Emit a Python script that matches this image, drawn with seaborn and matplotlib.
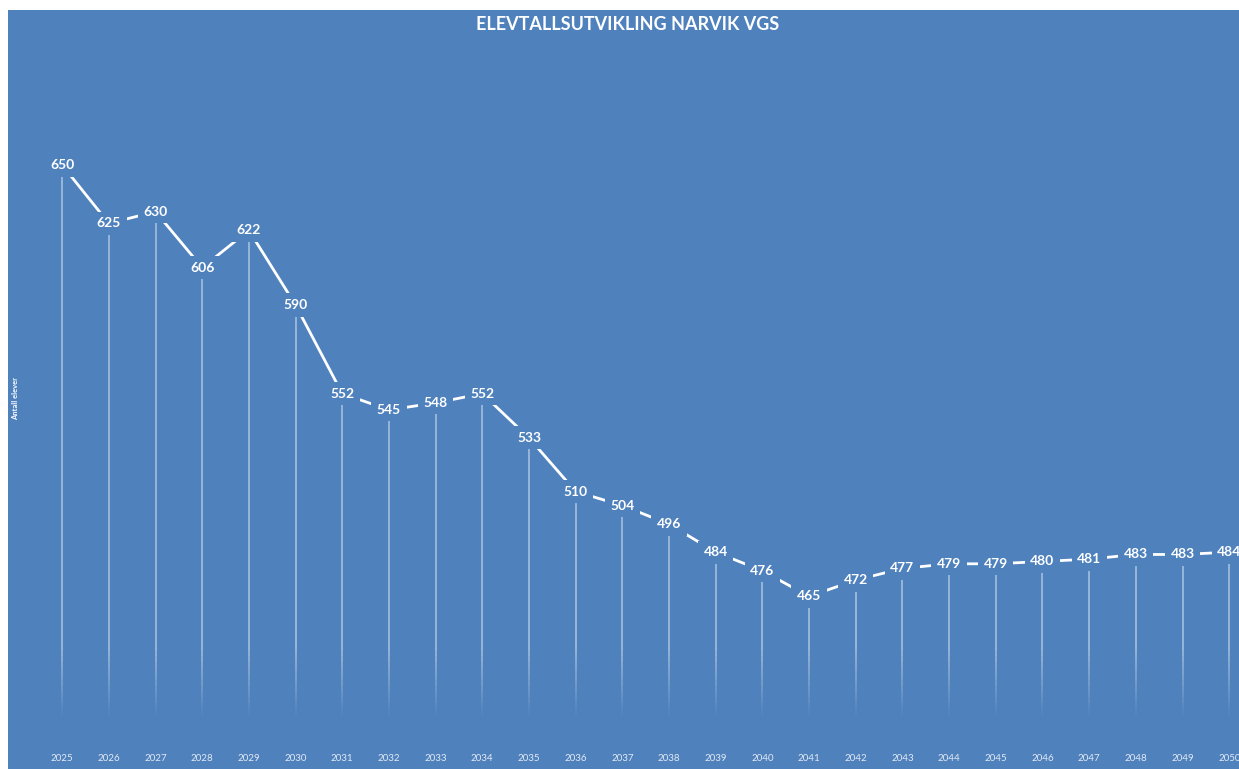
import numpy as np
import pandas as pd
import matplotlib
matplotlib.use("Agg")
import matplotlib.pyplot as plt
import seaborn as sns

# ==========================================
# DATA
# ==========================================

years = list(range(2025, 2051))
students = [650, 625, 630, 606, 622, 590, 552, 545, 548, 552, 533, 510, 504,
            496, 484, 476, 465, 472, 477, 479, 479, 480, 481, 483, 483, 484]

title = "ELEVTALLSUTVIKLING NARVIK VGS"
ylabel = "Antall elever"

df = pd.DataFrame({"year": years, "students": students})

# ==========================================
# STYLE
# ==========================================

bg = "#4F81BD"
sns.set_style("white")
plt.rcParams['font.family'] = ['Lato', 'DejaVu Sans']

W, H = 1239, 769
fig = plt.figure(figsize=(W / 100, H / 100), dpi=100, facecolor="white")
# blue panel starts 8 px in from the left, 10 px down from the top
ax = fig.add_axes([8 / W, 0, 1 - 8 / W, 1 - 10 / H])
ax.set_facecolor(bg)

# drop lines, fading out towards the bottom
fade_start = 442
fade_end = 414
ax.vlines(df["year"], fade_start, df["students"], color="white", alpha=0.45, lw=1.3, zorder=1)
steps = np.linspace(fade_start, fade_end, 12)
for i in range(len(steps) - 1):
    a = 0.45 * (1 - (i + 1) / len(steps))
    ax.vlines(df["year"], steps[i + 1], steps[i], color="white", alpha=a, lw=1.3, zorder=1)

sns.lineplot(data=df, x="year", y="students", color="white", lw=2.0, ax=ax, zorder=2)

for x, y in zip(years, students):
    ax.text(x, y, str(y), ha="center", va="center", color="white",
            fontsize=10, fontweight="bold", zorder=3,
            bbox=dict(boxstyle="square,pad=0.4", fc=bg, ec="none"))

ax.set_xlim(2023.84, 2050.21)
ax.set_ylim(391, 716.5)

ax.set_xticks(years)
ax.set_xticklabels([str(y) for y in years], color="#E3EAF4", fontsize=7)
ax.tick_params(axis="x", length=0, pad=-11)
ax.set_yticks([])
ax.set_xlabel("")
ax.set_ylabel("")
for s in ax.spines.values():
    s.set_visible(False)

fig.text(628 / W, 1 - 25 / H, title, ha="center", va="center",
         color="white", fontsize=13, fontweight="bold")
fig.text(16 / W, 1 - 398 / H, ylabel, ha="center", va="center",
         rotation=90, color="white", fontsize=5.5, fontweight="bold")

fig.savefig("out.png", dpi=100, facecolor="white")
